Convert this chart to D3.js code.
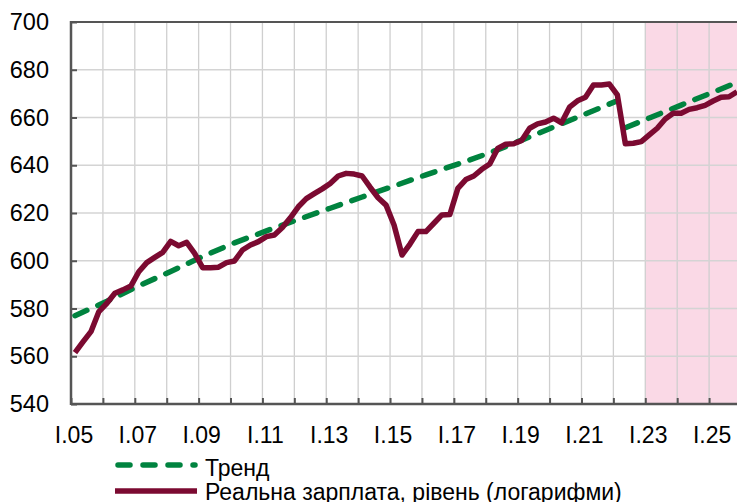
<!DOCTYPE html>
<meta charset="utf-8">
<script src="https://d3js.org/d3.v7.min.js"></script>
<html>
<head>
  <title>Реальна зарплата</title>
  <style>
    body { margin: 0; background: #fff; overflow: hidden; }
    text { font-family: "Liberation Sans", Arial, sans-serif; fill: #000; }
  </style>
</head>
<body>
  <div id="my_dataviz"></div>

<script>
// quarterly real wage, index 0 = I.05
var wage = [561.5, 566.0, 570.3, 578.7, 582.2, 586.4, 587.8, 589.4,
            595.4, 599.2, 601.4, 603.5, 608.1, 606.3, 607.7, 603.1,
            597.1, 597.1, 597.3, 599.2, 599.9, 604.5, 606.6, 608.0,
            610.1, 610.8, 613.9, 618.0, 622.6, 626.0, 628.1, 630.1,
            632.4, 635.5, 636.6, 636.3, 635.5, 630.8, 626.4, 623.3,
            615.0, 602.4, 607.0, 612.2, 612.2, 615.7, 619.2, 619.4,
            630.3, 634.0, 635.5, 638.3, 640.5, 647.0, 648.8, 649.0,
            650.4, 655.5, 657.3, 658.1, 659.7, 657.8, 664.3, 667.0,
            668.5, 673.6, 673.6, 674.0, 669.5, 649.0, 649.2, 649.9,
            652.7, 655.5, 659.4, 661.8, 661.8, 663.4, 664.1, 665.1,
            666.9, 668.5, 668.7, 670.8];

// trend read at a few quarters (null = level break in 2022)
var trendQuarters = [0, 4, 8, 12, 16, 20, 24, 28, 32, 36, 40, 44, 48, 52, 56, 60, 64, 68, 68.5, 69, 72, 76, 80, 83];
var trendValues   = [577, 583, 589.5, 595.5, 601.8, 607.5, 612.5, 617.3, 622, 626.7, 631.3, 636, 640.5, 645.2, 650.5, 656, 661.5, 667, null, 655.7, 659.8, 665.2, 670.6, 674.7];

var yearLabels = ["I.05", "I.07", "I.09", "I.11", "I.13", "I.15", "I.17", "I.19", "I.21", "I.23", "I.25"];
var yTicks = [540, 560, 580, 600, 620, 640, 660, 680, 700];
var forecastStart = 72; // I.23
var nQuarters = 84;

var W = 737, H = 502;
var plotL = 71, plotR = 741, plotT = 22, plotB = 404;

var svg = d3.select("#my_dataviz")
  .append("svg")
    .attr("width", W)
    .attr("height", H);

var x = d3.scaleLinear().domain([0, nQuarters]).range([plotL, plotR]);
var y = d3.scaleLinear().domain([540, 700]).range([plotB, plotT]);

// shaded forecast period
svg.append("rect")
  .attr("x", x(forecastStart))
  .attr("y", plotT)
  .attr("width", plotR - x(forecastStart))
  .attr("height", plotB - plotT)
  .style("fill", "#fad9e6");

// grid
var yearQ = d3.range(0, nQuarters + 1, 4);
svg.append("g")
  .selectAll("line")
  .data(yearQ.slice(1))
  .enter().append("line")
    .attr("x1", function(d) { return x(d); })
    .attr("x2", function(d) { return x(d); })
    .attr("y1", plotT)
    .attr("y2", plotB)
    .style("stroke", "#cfcfcf")
    .style("stroke-width", 1.3);

svg.append("g")
  .selectAll("line")
  .data(yTicks.slice(1, -1))
  .enter().append("line")
    .attr("x1", plotL)
    .attr("x2", plotR)
    .attr("y1", function(d) { return y(d); })
    .attr("y2", function(d) { return y(d); })
    .style("stroke", "#d4d4d4")
    .style("stroke-width", 1.3);

// Y axis
var yAxis = svg.append("g")
  .attr("transform", "translate(" + plotL + ",0)")
  .call(d3.axisRight(y).tickValues(yTicks).tickSize(6).tickFormat(""));
yAxis.select(".domain").remove();
yAxis.selectAll("line").style("stroke", "#555").style("stroke-width", 2);

svg.append("g")
  .selectAll("text")
  .data(yTicks)
  .enter().append("text")
    .attr("x", 49)
    .attr("y", function(d) { return y(d); })
    .attr("dy", "0.35em")
    .attr("text-anchor", "end")
    .style("font-size", "23.5px")
    .text(function(d) { return d; });

// X axis
var xAxis = svg.append("g")
  .attr("transform", "translate(0," + plotB + ")")
  .call(d3.axisTop(x).tickValues(yearQ).tickSize(6).tickFormat(""));
xAxis.select(".domain").remove();
xAxis.selectAll("line").style("stroke", "#555").style("stroke-width", 2);

svg.append("g")
  .selectAll("text")
  .data(yearLabels)
  .enter().append("text")
    .attr("x", function(d, i) { return x(i * 8) + 3; })
    .attr("y", 443)
    .attr("text-anchor", "middle")
    .style("font-size", "23px")
    .text(function(d) { return d; });

// frame lines
svg.append("line")
  .attr("x1", plotL).attr("x2", plotR).attr("y1", plotT).attr("y2", plotT)
  .style("stroke", "#555").style("stroke-width", 2.2);
svg.append("line")
  .attr("x1", plotL).attr("x2", plotR).attr("y1", plotB).attr("y2", plotB)
  .style("stroke", "#555").style("stroke-width", 2.5);
svg.append("line")
  .attr("x1", plotL).attr("x2", plotL).attr("y1", plotT - 1).attr("y2", plotB + 1)
  .style("stroke", "#555").style("stroke-width", 2.5);

// trend line
var trendData = trendQuarters.map(function(q, i) { return [q, trendValues[i]]; });
var trendLine = d3.line()
  .defined(function(d) { return d[1] != null; })
  .x(function(d) { return x(d[0] + 0.5); })
  .y(function(d) { return y(d[1]); });

svg.append("path")
  .datum(trendData)
  .attr("d", trendLine)
  .style("fill", "none")
  .style("stroke", "#00833f")
  .style("stroke-width", 5.5)
  .style("stroke-linecap", "round")
  .style("stroke-dasharray", "13,12");

// real wage line
var wageLine = d3.line()
  .x(function(d, i) { return x(i + 0.5); })
  .y(function(d) { return y(d); });

svg.append("path")
  .datum(wage)
  .attr("d", wageLine)
  .style("fill", "none")
  .style("stroke", "#7b0a31")
  .style("stroke-width", 5.5)
  .style("stroke-linejoin", "round");

// legend
var legend = svg.append("g");
legend.append("line")
  .attr("x1", 118).attr("x2", 195).attr("y1", 465).attr("y2", 465)
  .style("stroke", "#00833f").style("stroke-width", 5.5)
  .style("stroke-linecap", "round").style("stroke-dasharray", "12,13");
legend.append("text")
  .attr("x", 205).attr("y", 476)
  .style("font-size", "23px")
  .text("Тренд");
legend.append("line")
  .attr("x1", 115).attr("x2", 197).attr("y1", 491).attr("y2", 491)
  .style("stroke", "#7b0a31").style("stroke-width", 5.5);
legend.append("text")
  .attr("x", 205).attr("y", 500)
  .style("font-size", "23px")
  .text("Реальна зарплата, рівень (логарифми)");
</script>
</body>
</html>
